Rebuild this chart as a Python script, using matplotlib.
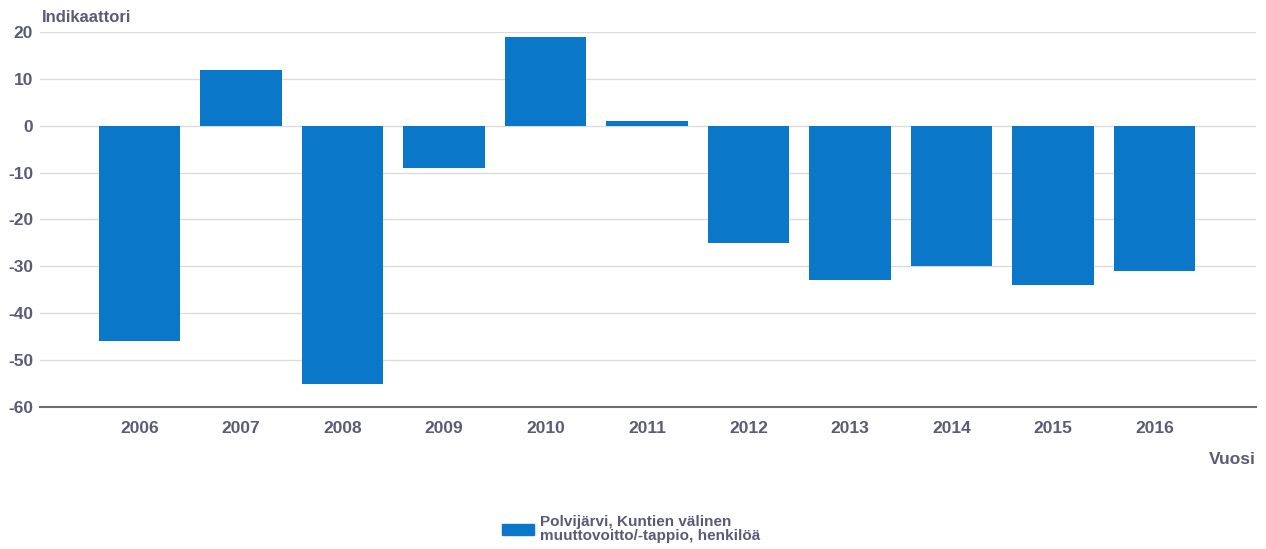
import matplotlib
matplotlib.use("Agg")
import matplotlib.pyplot as plt
from matplotlib.patches import Rectangle

plt.rcParams["font.family"] = ["Liberation Sans", "DejaVu Sans"]
plt.rcParams["axes.unicode_minus"] = False

years = ["2006", "2007", "2008", "2009", "2010", "2011", "2012", "2013", "2014", "2015", "2016"]
values = [-46, 12, -55, -9, 19, 1, -25, -33, -30, -34, -31]
yticks = [20, 10, 0, -10, -20, -30, -40, -50, -60]

BAR = "#0a77c9"
TXT = "#5b5a78"

fig = plt.figure(figsize=(12.66, 5.49), dpi=100)
ax = fig.add_axes([0.0316, 0.2587, 0.9605, 0.683])

x = range(len(years))
ax.bar(x, values, width=0.8, color=BAR, zorder=3)
ax.set_xlim(-0.98, 11.0)
ax.set_ylim(-60, 20)
ax.set_yticks(yticks)
ax.set_xticks(list(x))
ax.set_xticklabels(years)
ax.grid(axis="y", color="#dcdcdc", lw=1, zorder=0)
for s in ["top", "right", "left"]:
    ax.spines[s].set_visible(False)
ax.spines["bottom"].set_color("#6e6e6e")
ax.spines["bottom"].set_linewidth(1.5)
ax.tick_params(axis="both", length=0, colors=TXT, labelsize=12.5)
ax.tick_params(axis="x", pad=10)
ax.tick_params(axis="y", pad=5)
for lab in ax.get_xticklabels() + ax.get_yticklabels():
    lab.set_fontweight("bold")

fig.text(0.033, 0.968, "Indikaattori", color=TXT, fontsize=12, fontweight="bold", ha="left", va="center")
fig.text(0.992, 0.163, "Vuosi", color=TXT, fontsize=12.5, fontweight="bold", ha="right", va="center")

fig.patches.append(Rectangle((0.3965, 0.0255), 0.025, 0.02, transform=fig.transFigure,
                             color=BAR, figure=fig))
fig.text(0.4265, 0.037, "Polvijärvi, Kuntien välinen\nmuuttovoitto/-tappio, henkilöä",
         color=TXT, fontsize=11, fontweight="bold", ha="left", va="center", linespacing=1.0)

fig.savefig("out.png", dpi=100)
